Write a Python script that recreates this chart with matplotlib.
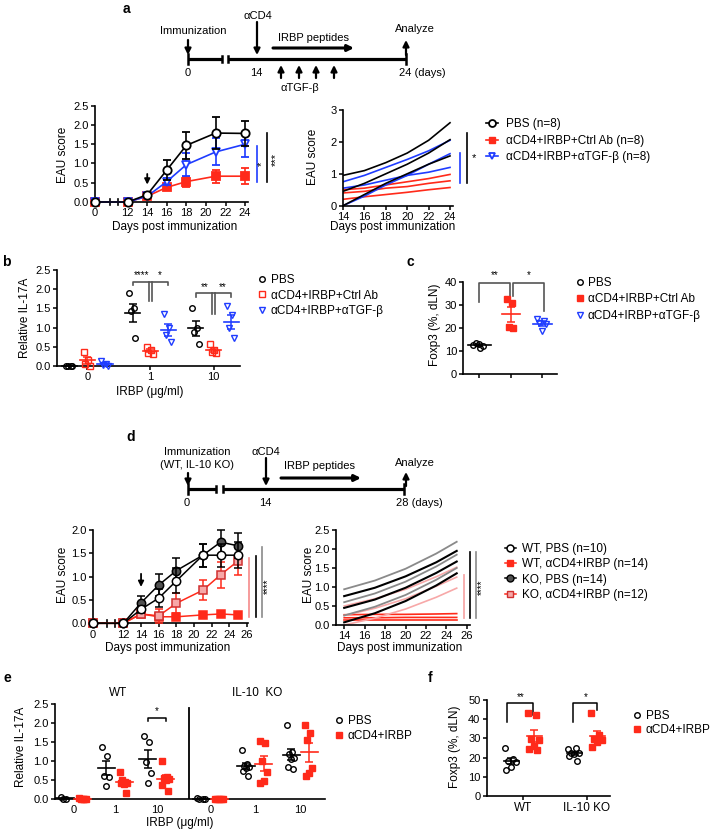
import numpy as np
import matplotlib
matplotlib.use('Agg')
import matplotlib.pyplot as plt
from matplotlib.lines import Line2D

plt.rcParams['font.family'] = ['Liberation Sans', 'DejaVu Sans']
plt.rcParams['font.size'] = 8

RED = '#ff2a1a'
BLUE = '#1f3cff'
PINK = '#f7a8a8'
GRAY = '#8a8a8a'
DARK = '#505050'

# --- Daten: a (EAU Verlauf) ---
days_a = [0, 12, 14, 16, 18, 21, 24]
pbs_a = [0, 0, 0.19, 0.83, 1.47, 1.79, 1.78]
pbs_a_err = [0, 0, 0.04, 0.27, 0.35, 0.41, 0.32]
ctrl_a = [0, 0, 0.15, 0.38, 0.53, 0.67, 0.67]
ctrl_a_err = [0, 0, 0.03, 0.06, 0.13, 0.17, 0.2]
tgf_a = [0, 0, 0.15, 0.53, 0.97, 1.3, 1.5]
tgf_a_err = [0, 0, 0.03, 0.1, 0.3, 0.35, 0.33]

# a rechts: Regressionskurven (3 je Gruppe)
days_fit_a = [14, 16, 18, 20, 22, 24]
fit_pbs_a = [[0.95, 1.1, 1.35, 1.65, 2.05, 2.6],
             [0.45, 0.7, 1.0, 1.3, 1.65, 2.07],
             [0.0, 0.35, 0.7, 1.0, 1.3, 1.56]]
fit_ctrl_a = [[0.5, 0.55, 0.65, 0.75, 0.85, 0.98],
              [0.4, 0.45, 0.55, 0.6, 0.7, 0.78],
              [0.2, 0.28, 0.35, 0.42, 0.5, 0.57]]
fit_tgf_a = [[0.75, 0.95, 1.2, 1.45, 1.72, 2.05],
             [0.55, 0.65, 0.8, 0.95, 1.05, 1.2],
             [0.0, 0.3, 0.65, 0.95, 1.3, 1.63]]

# --- b: IL-17A ---
irbp_labels = ['0', '1', '10']
b_pbs = [[0.01, 0.0, 0.0, 0.0], [1.89, 1.5, 1.42, 0.72], [1.5, 0.98, 0.89, 0.57]]
b_ctrl = [[0.37, 0.16, 0.05, 0.0], [0.5, 0.42, 0.35, 0.31], [0.56, 0.42, 0.37, 0.33]]
b_tgf = [[0.14, 0.05, 0.03, 0.0], [1.35, 0.98, 0.81, 0.63], [1.57, 1.33, 0.98, 0.72]]

# --- c: Foxp3 ---
c_pbs = [12.5, 11.3, 13.5, 12.2, 12.8]
c_ctrl = [32.5, 30.8, 20.3, 20.0]
c_tgf = [24.0, 23.0, 22.0, 21.8, 18.6]

# --- d: EAU WT / IL-10 KO ---
days_d = [0, 12, 14, 16, 18, 21, 23, 25]
wt_pbs = [0, 0, 0.30, 0.54, 0.91, 1.46, 1.46, 1.46]
wt_pbs_err = [0, 0, 0.08, 0.2, 0.27, 0.25, 0.25, 0.28]
ko_pbs = [0, 0, 0.44, 0.82, 1.13, 1.46, 1.74, 1.66]
ko_pbs_err = [0, 0, 0.14, 0.24, 0.28, 0.25, 0.25, 0.27]
wt_irbp = [0, 0, 0.2, 0.14, 0.14, 0.18, 0.2, 0.18]
wt_irbp_err = [0, 0, 0.03, 0.04, 0.04, 0.04, 0.03, 0.04]
ko_irbp = [0, 0, 0.2, 0.16, 0.43, 0.71, 1.04, 1.34]
ko_irbp_err = [0, 0, 0.04, 0.15, 0.21, 0.22, 0.28, 0.3]

days_fit_d = [14, 17, 20, 23, 25]
fit_ko_pbs = [[0.94, 1.17, 1.48, 1.88, 2.19],
              [0.6, 0.83, 1.14, 1.54, 1.85],
              [0.25, 0.48, 0.79, 1.19, 1.5]]
fit_wt_pbs = [[0.76, 0.98, 1.28, 1.65, 1.95],
              [0.45, 0.67, 0.98, 1.37, 1.67],
              [0.07, 0.31, 0.63, 1.04, 1.36]]
fit_ko_irbp = [[0.5, 0.69, 0.94, 1.27, 1.52],
               [0.25, 0.44, 0.69, 1.02, 1.26],
               [0.0, 0.18, 0.42, 0.73, 0.97]]
fit_wt_irbp = [[0.27, 0.28, 0.28, 0.29, 0.3],
               [0.19, 0.19, 0.2, 0.2, 0.2],
               [0.12, 0.12, 0.12, 0.12, 0.12]]

# --- e: IL-17A WT / KO ---
e_labels = ['0', '1', '10', '0', '1', '10']
e_pbs = [[0.05, 0.02, 0.0], [1.37, 1.14, 0.62, 0.6, 0.36], [1.66, 1.5, 0.98, 0.68, 0.44],
         [0.03, 0.02, 0.0, 0.0], [1.31, 0.92, 0.88, 0.85, 0.82, 0.75, 0.62],
         [1.96, 1.25, 1.18, 1.1, 1.05, 0.86, 0.8]]
e_irbp = [[0.03, 0.02, 0.0, 0.0, 0.01], [0.73, 0.45, 0.5, 0.44, 0.4, 0.42, 0.16],
          [1.0, 0.6, 0.56, 0.53, 0.5, 0.38, 0.23], [0, 0, 0, 0, 0],
          [1.54, 1.47, 1.0, 0.73, 0.49, 0.42], [1.96, 1.75, 1.56, 0.82, 0.68, 0.62]]

# --- f: Foxp3 WT / KO ---
f_labels = ['WT', 'IL-10 KO']
f_pbs = [[24.8, 19.2, 18.4, 17.8, 15.0, 13.6], [24.3, 24.8, 22.6, 22.2, 21.9, 20.8, 18.4]]
f_irbp = [[43.0, 42.3, 29.5, 29.2, 26.0, 24.5, 24.0], [43.4, 32.0, 29.5, 29.0, 28.3, 25.3]]

# --- Figur ---
W, H = 714, 831
fig = plt.figure(figsize=(W / 100, H / 100), dpi=100)


def rect(l, t, r, b):
    return [l / W, 1 - b / H, (r - l) / W, (b - t) / H]


def style(ax):
    for s in ('top', 'right'):
        ax.spines[s].set_visible(False)
    for s in ('left', 'bottom'):
        ax.spines[s].set_linewidth(1.2)
    ax.tick_params(direction='out', length=3, width=1.1, labelsize=8, pad=1.5)


def ftext(x, y, s, **kw):
    fig.text(x / W, 1 - y / H, s, ha=kw.pop('ha', 'center'), va=kw.pop('va', 'center'), **kw)


def broken_xaxis(ax, x0, xb0, xb1, x1):
    ax.spines['bottom'].set_visible(False)
    tr = ax.get_xaxis_transform()
    for a, b in ((x0, xb0), (xb1, x1)):
        ax.plot([a, b], [0, 0], color='k', lw=1.2, transform=tr, clip_on=False)
    for x in (xb0, xb1):
        ax.plot([x, x], [-0.035, 0.035], color='k', lw=1.2, transform=tr, clip_on=False)


def jitter(n, w):
    if n == 1:
        return np.zeros(1)
    return ((np.arange(n) * 0.618) % 1 - 0.5) * 2 * w


def dots(ax, x, vals, marker, color, filled, ms, w, mw):
    vals = np.asarray(vals, dtype=float)
    xs = x + jitter(len(vals), w)
    ax.plot(xs, vals, ls='none', marker=marker, ms=ms, mew=1.0, mec=color,
            mfc=color if filled else 'none', clip_on=False, zorder=3)
    m = vals.mean()
    sem = vals.std(ddof=1) / np.sqrt(len(vals))
    ax.plot([x - mw, x + mw], [m, m], color=color, lw=1.2, zorder=4, clip_on=False)
    ax.errorbar(x, m, yerr=sem, color=color, lw=1.1, capsize=3, capthick=1.1, zorder=4)


# Overlay fuer Schemata
ov = fig.add_axes([0, 0, 1, 1])
ov.set_xlim(0, W)
ov.set_ylim(H, 0)
ov.axis('off')


def timeline(y, x0, xb0, xb1, x1):
    for a, b in ((x0, xb0), (xb1, x1)):
        ov.plot([a, b], [y, y], color='k', lw=2.3, solid_capstyle='butt')
    for x, h in ((x0, 5), (xb0, 3), (xb1, 3), (x1, 5)):
        ov.plot([x, x], [y - h, y + h], color='k', lw=1.8)


def arrow(x0, y0, x1, y1, lw=1.6):
    ov.annotate('', xy=(x1, y1), xytext=(x0, y0),
                arrowprops=dict(arrowstyle='-|>', color='k', lw=lw,
                                mutation_scale=9, shrinkA=0, shrinkB=0))


# Panel a Schema
ftext(126, 9, 'a', fontsize=10, fontweight='bold')
timeline(59, 188, 222, 228, 406)
ftext(188, 73, '0', fontsize=8)
ftext(256, 73, '14', fontsize=8)
ftext(399, 73, '24 (days)', fontsize=8, ha='left')
ftext(193, 31, 'Immunization', fontsize=8)
arrow(188, 40, 188, 55)
ftext(258, 16, 'αCD4', fontsize=8)
arrow(257, 22, 257, 55)
ftext(313, 38, 'IRBP peptides', fontsize=8)
arrow(273, 48, 354, 48, lw=2.2)
ftext(415, 29, 'Analyze', fontsize=8)
arrow(406, 55, 406, 40)
for x in (281, 299, 316, 334):
    arrow(x, 78, x, 65)
ftext(300, 88, 'αTGF-β', fontsize=8)

# Panel a links
brk_a = 8.66
ax = fig.add_axes(rect(95, 105.7, 248, 202))
style(ax)
xa = [brk_a if d == 0 else d for d in days_a]
for y, e, c, mk, mf, z in ((ctrl_a, ctrl_a_err, RED, 's', RED, 2),
                           (tgf_a, tgf_a_err, BLUE, 'v', 'white', 3),
                           (pbs_a, pbs_a_err, 'k', 'o', 'white', 4)):
    ax.errorbar(xa, y, yerr=e, color=c, marker=mk, mfc=mf, mec=c, ms=6, mew=1.3,
                lw=1.2, capsize=3, capthick=1.2, elinewidth=1.2, clip_on=False, zorder=z)
ax.set_xlim(brk_a, 24.3)
ax.set_ylim(0, 2.5)
ax.set_xticks([brk_a] + list(range(12, 25, 2)))
ax.set_xticklabels(['0'] + [str(d) for d in range(12, 25, 2)])
ax.set_yticks(np.arange(0, 2.51, 0.5))
ax.set_yticklabels(['%.1f' % v for v in np.arange(0, 2.51, 0.5)])
broken_xaxis(ax, brk_a, 10.19, 11.0, 24.3)
ax.annotate('', xy=(14, 0.38), xytext=(14, 0.8),
            arrowprops=dict(arrowstyle='-|>', color='k', lw=1.3, mutation_scale=8))
ax.plot([25.2, 25.2], [0.53, 1.46], color=BLUE, lw=1.2, clip_on=False)
ax.plot([26.25, 26.25], [0.53, 1.8], color='k', lw=1.2, clip_on=False)
ax.text(25.75, 1.0, '*', rotation=90, ha='center', va='center', fontsize=8, clip_on=False)
ax.text(27.1, 1.1, '***', rotation=90, ha='center', va='center', fontsize=8, clip_on=False)
ftext(63, 155, 'EAU score', rotation=90, fontsize=8.5)
ftext(175, 227, 'Days post immunization', fontsize=8.5)

# Panel a rechts
ax = fig.add_axes(rect(343, 110, 453, 205.7))
style(ax)
for grp, c in ((fit_ctrl_a, RED), (fit_tgf_a, BLUE), (fit_pbs_a, 'k')):
    for line in grp:
        ax.plot(days_fit_a, line, color=c, lw=1.2)
ax.set_xlim(14, 24.28)
ax.set_ylim(0, 3)
ax.set_xticks(range(14, 25, 2))
ax.set_yticks([0, 1, 2, 3])
ax.plot([24.93, 24.93], [0.72, 1.65], color=BLUE, lw=1.2, clip_on=False)
ax.plot([25.56, 25.56], [0.72, 2.28], color='k', lw=1.2, clip_on=False)
ax.text(26.24, 1.5, '*', ha='center', va='center', fontsize=8, clip_on=False)
ftext(313, 157, 'EAU score', rotation=90, fontsize=8.5)
ftext(393, 227, 'Days post immunization', fontsize=8.5)

leg_a = [Line2D([], [], color='k', marker='o', mfc='white', ms=5, mew=1.3, lw=1.2),
         Line2D([], [], color=RED, marker='s', mfc=RED, ms=5, lw=1.2),
         Line2D([], [], color=BLUE, marker='v', mfc='white', ms=5, mew=1.3, lw=1.2)]
fig.legend(leg_a, ['PBS (n=8)', 'αCD4+IRBP+Ctrl Ab (n=8)', 'αCD4+IRBP+αTGF-β (n=8)'],
           loc='upper left', bbox_to_anchor=(486 / W, 1 - 118 / H), frameon=False,
           fontsize=8.5, handlelength=1.0, handletextpad=0.7, labelspacing=0.4,
           borderpad=0, borderaxespad=0)

# Panel b
ftext(6, 262, 'b', fontsize=10, fontweight='bold')
ax = fig.add_axes(rect(56.7, 270, 240, 366))
style(ax)
for i in range(3):
    dots(ax, i - 0.28, b_pbs[i], 'o', 'k', False, 4, 0.06, 0.12)
    dots(ax, i, b_ctrl[i], 's', RED, False, 4, 0.06, 0.12)
    dots(ax, i + 0.28, b_tgf[i], 'v', BLUE, False, 4, 0.06, 0.12)
ax.set_xlim(-0.486, 2.42)
ax.set_ylim(0, 2.5)
ax.set_xticks([0, 1, 2])
ax.set_xticklabels(irbp_labels)
ax.set_yticks(np.arange(0, 2.51, 0.5))
ax.set_yticklabels(['%.1f' % v for v in np.arange(0, 2.51, 0.5)])
bc = '#555555'
for g, top, low, s1, s2 in ((1, 2.2, 1.7, '****', '*'), (2, 1.89, 1.35, '**', '**')):
    ax.plot([g - 0.27, g - 0.27, g + 0.28, g + 0.28], [top - 0.09, top, top, top - 0.09],
            color=bc, lw=1.2, clip_on=False)
    for dx in (-0.025, 0.025):
        ax.plot([g + dx, g + dx], [top, low], color=bc, lw=1.2, clip_on=False)
    ax.text(g - 0.14, top + 0.03, s1, ha='center', va='bottom', fontsize=7)
    ax.text(g + 0.15, top + 0.03, s2, ha='center', va='bottom', fontsize=7)
ftext(25, 318, 'Relative IL-17A', rotation=90, fontsize=8.5)
ftext(150, 392, 'IRBP (μg/ml)', fontsize=8.5)

leg_b = [Line2D([], [], ls='none', marker='o', mfc='none', mec='k', ms=4),
         Line2D([], [], ls='none', marker='s', mfc='none', mec=RED, ms=4),
         Line2D([], [], ls='none', marker='v', mfc='none', mec=BLUE, ms=4)]
fig.legend(leg_b, ['PBS', 'αCD4+IRBP+Ctrl Ab', 'αCD4+IRBP+αTGF-β'],
           loc='upper left', bbox_to_anchor=(258 / W, 1 - 274 / H), frameon=False,
           fontsize=8.5, handlelength=0.6, handletextpad=0.5, labelspacing=0.3,
           borderpad=0, borderaxespad=0)

# Panel c
ftext(410, 262, 'c', fontsize=10, fontweight='bold')
ax = fig.add_axes(rect(463.3, 281.7, 556.7, 374))
style(ax)
dots(ax, 0, c_pbs, 'o', 'k', False, 4, 0.18, 0.36)
dots(ax, 1, c_ctrl, 's', RED, True, 4.5, 0.12, 0.28)
dots(ax, 2, c_tgf, 'v', BLUE, False, 4, 0.18, 0.3)
ax.set_xlim(-0.5, 2.45)
ax.set_ylim(0, 40)
ax.set_xticks([0, 1, 2])
ax.set_xticklabels([])
ax.set_yticks([0, 10, 20, 30, 40])
ax.plot([0, 0, 0.96, 0.96], [31, 39.6, 39.6, 34], color=bc, lw=1.2, clip_on=False)
ax.plot([1.08, 1.08, 2.05, 2.05], [34, 39.6, 39.6, 27.5], color=bc, lw=1.2, clip_on=False)
ax.text(0.48, 40.5, '**', ha='center', va='bottom', fontsize=7)
ax.text(1.58, 40.5, '*', ha='center', va='bottom', fontsize=7)
ftext(435, 325, 'Foxp3 (%, dLN)', rotation=90, fontsize=8.5)

leg_c = [Line2D([], [], ls='none', marker='o', mfc='none', mec='k', ms=4),
         Line2D([], [], ls='none', marker='s', mfc=RED, mec=RED, ms=4),
         Line2D([], [], ls='none', marker='v', mfc='none', mec=BLUE, ms=4)]
fig.legend(leg_c, ['PBS', 'αCD4+IRBP+Ctrl Ab', 'αCD4+IRBP+αTGF-β'],
           loc='upper left', bbox_to_anchor=(577 / W, 1 - 277 / H), frameon=False,
           fontsize=8.5, handlelength=0.5, handletextpad=0.4, labelspacing=0.38,
           borderpad=0, borderaxespad=0)

# Panel d Schema
ftext(131, 437, 'd', fontsize=10, fontweight='bold')
timeline(489, 188, 216, 223, 404)
ftext(187, 503, '0', fontsize=8)
ftext(265, 503, '14', fontsize=8)
ftext(396, 503, '28 (days)', fontsize=8, ha='left')
ftext(197, 452, 'Immunization', fontsize=8)
ftext(197, 465, '(WT, IL-10 KO)', fontsize=8)
arrow(188, 473, 188, 486)
ftext(266, 452, 'αCD4', fontsize=8)
arrow(266, 458, 266, 486)
ftext(319, 466, 'IRBP peptides', fontsize=8)
arrow(281, 478, 361, 478, lw=2.2)
ftext(415, 463, 'Analyze', fontsize=8)
arrow(406, 486, 406, 472)

# Panel d links
brk_d = 8.53
ax = fig.add_axes(rect(92.7, 530, 248, 623.3))
style(ax)
xd = [brk_d if d == 0 else d for d in days_d]
for y, e, c, lc, mk, mf, z in ((wt_irbp, wt_irbp_err, RED, RED, 's', RED, 2),
                               (ko_irbp, ko_irbp_err, RED, RED, 's', PINK, 3),
                               (wt_pbs, wt_pbs_err, 'k', 'k', 'o', 'white', 5),
                               (ko_pbs, ko_pbs_err, 'k', 'k', 'o', DARK, 4)):
    ax.errorbar(xd, y, yerr=e, color=lc, marker=mk, mfc=mf,
                mec=('#d03030' if mf == PINK else c), ms=6, mew=1.1,
                lw=1.1, capsize=3, capthick=1.1, elinewidth=1.1, clip_on=False, zorder=z)
ax.set_xlim(brk_d, 26.1)
ax.set_ylim(0, 2.0)
ax.set_xticks([brk_d] + list(range(12, 27, 2)))
ax.set_xticklabels(['0'] + [str(d) for d in range(12, 27, 2)])
ax.set_yticks(np.arange(0, 2.01, 0.5))
ax.set_yticklabels(['%.1f' % v for v in np.arange(0, 2.01, 0.5)])
broken_xaxis(ax, brk_d, 10.15, 11.06, 26.1)
ax.annotate('', xy=(14, 0.72), xytext=(14, 1.12),
            arrowprops=dict(arrowstyle='-|>', color='k', lw=1.3, mutation_scale=8))
ax.plot([26.19, 26.19], [0.13, 1.39], color='#f58a8a', lw=1.2, clip_on=False)
ax.plot([26.95, 26.95], [0.13, 1.44], color='k', lw=1.2, clip_on=False)
ax.plot([27.71, 27.71], [0.13, 1.63], color=GRAY, lw=1.2, clip_on=False)
ax.text(28.3, 0.79, '****', rotation=90, ha='center', va='center', fontsize=7, clip_on=False)
ftext(63, 575, 'EAU score', rotation=90, fontsize=8.5)
ftext(168, 648, 'Days post immunization', fontsize=8.5)

# Panel d rechts
ax = fig.add_axes(rect(336, 530, 470, 625))
style(ax)
for grp, c, lw in ((fit_wt_irbp, RED, 1.2), (fit_ko_irbp, PINK, 1.2),
                   (fit_ko_pbs, GRAY, 1.3), (fit_wt_pbs, 'k', 1.5)):
    for line in grp:
        ax.plot(days_fit_d, line, color=c, lw=lw)
ax.set_xlim(13.2, 26.3)
ax.set_ylim(0, 2.5)
ax.set_xticks(range(14, 27, 2))
ax.set_yticks(np.arange(0, 2.51, 0.5))
ax.set_yticklabels(['%.1f' % v for v in np.arange(0, 2.51, 0.5)])
ax.plot([25.71, 25.71], [0.18, 1.32], color=PINK, lw=1.3, clip_on=False)
ax.plot([26.3, 26.3], [0.18, 1.93], color='k', lw=1.2, clip_on=False)
ax.plot([26.89, 26.89], [0.18, 1.93], color=GRAY, lw=1.2, clip_on=False)
ax.text(27.44, 1.0, '****', rotation=90, ha='center', va='center', fontsize=7, clip_on=False)
ftext(309, 575, 'EAU score', rotation=90, fontsize=8.5)
ftext(400, 648, 'Days post immunization', fontsize=8.5)

leg_d = [Line2D([], [], color='k', marker='o', mfc='white', ms=5, mew=1.1, lw=1.1),
         Line2D([], [], color=RED, marker='s', mfc=RED, ms=5, lw=1.1),
         Line2D([], [], color='k', marker='o', mfc=DARK, ms=5, lw=1.1),
         Line2D([], [], color=RED, marker='s', mfc=PINK, mec='#d03030', ms=5, lw=1.1)]
fig.legend(leg_d, ['WT, PBS (n=10)', 'WT, αCD4+IRBP (n=14)', 'KO, PBS (n=14)',
                   'KO, αCD4+IRBP (n=12)'],
           loc='upper left', bbox_to_anchor=(505 / W, 1 - 543 / H), frameon=False,
           fontsize=8.5, handlelength=0.9, handletextpad=0.55, labelspacing=0.28,
           borderpad=0, borderaxespad=0)

# Panel e
ftext(7, 678, 'e', fontsize=10, fontweight='bold')
e_pos = [0, 0.97, 1.94, 3.2, 4.24, 5.3]
ax = fig.add_axes(rect(55, 704.3, 325, 799.3))
style(ax)
for i, x in enumerate(e_pos):
    dots(ax, x - 0.21, e_pbs[i], 'o', 'k', False, 4, 0.1, 0.2)
    dots(ax, x + 0.21, e_irbp[i], 's', RED, True, 4.5, 0.1, 0.2)
ax.set_xlim(-0.445, 5.88)
ax.set_ylim(0, 2.5)
ax.set_xticks(e_pos)
ax.set_xticklabels(e_labels)
ax.tick_params(axis='x', length=0, pad=4)
ax.set_yticks(np.arange(0, 2.51, 0.5))
ax.set_yticklabels(['%.1f' % v for v in np.arange(0, 2.51, 0.5)])
ax.plot([2.69, 2.69], [0, 2.4], color='k', lw=1.3)
ax.plot([1.73, 1.73, 2.15, 2.15], [2.06, 2.15, 2.15, 2.06], color='k', lw=1.1, clip_on=False)
ax.text(1.94, 2.18, '*', ha='center', va='bottom', fontsize=7)
ax.text(1.03, 2.8, 'WT', ha='center', va='center', fontsize=8.5, clip_on=False)
ax.text(4.29, 2.8, 'IL-10  KO', ha='center', va='center', fontsize=8.5, clip_on=False)
ftext(21, 747, 'Relative IL-17A', rotation=90, fontsize=8.5)
ftext(180, 823, 'IRBP (μg/ml)', fontsize=8.5)

leg_e = [Line2D([], [], ls='none', marker='o', mfc='none', mec='k', ms=4),
         Line2D([], [], ls='none', marker='s', mfc=RED, mec=RED, ms=4)]
fig.legend(leg_e, ['PBS', 'αCD4+IRBP'], loc='upper left',
           bbox_to_anchor=(336 / W, 1 - 715 / H), frameon=False, fontsize=8.5,
           handlelength=0.45, handletextpad=0.55, labelspacing=0.25,
           borderpad=0, borderaxespad=0)

# Panel f
ftext(430, 678, 'f', fontsize=10, fontweight='bold')
ax = fig.add_axes(rect(486.7, 700, 610, 796))
style(ax)
for i in range(2):
    dots(ax, i - 0.19, f_pbs[i], 'o', 'k', False, 4, 0.1, 0.12)
    dots(ax, i + 0.17, f_irbp[i], 's', RED, True, 4.5, 0.1, 0.12)
ax.set_xlim(-0.58, 1.37)
ax.set_ylim(0, 50)
ax.set_xticks([0, 1])
ax.set_xticklabels(f_labels)
ax.tick_params(axis='x', labelsize=8.5)
ax.set_yticks([0, 10, 20, 30, 40, 50])
ax.plot([-0.26, -0.26, 0.15, 0.15], [38.7, 48.3, 48.3, 42.2], color='k', lw=1.1, clip_on=False)
ax.plot([0.78, 0.78, 1.17, 1.17], [38.7, 48.3, 48.3, 44.8], color='k', lw=1.1, clip_on=False)
ax.text(-0.05, 49, '**', ha='center', va='bottom', fontsize=7)
ax.text(0.98, 49, '*', ha='center', va='bottom', fontsize=7)
ftext(455, 747, 'Foxp3 (%, dLN)', rotation=90, fontsize=8.5)

leg_f = [Line2D([], [], ls='none', marker='o', mfc='none', mec='k', ms=4),
         Line2D([], [], ls='none', marker='s', mfc=RED, mec=RED, ms=4)]
fig.legend(leg_f, ['PBS', 'αCD4+IRBP'], loc='upper left',
           bbox_to_anchor=(634 / W, 1 - 710 / H), frameon=False, fontsize=8.5,
           handlelength=0.45, handletextpad=0.55, labelspacing=0.15,
           borderpad=0, borderaxespad=0)

fig.savefig('out.png', dpi=100)
